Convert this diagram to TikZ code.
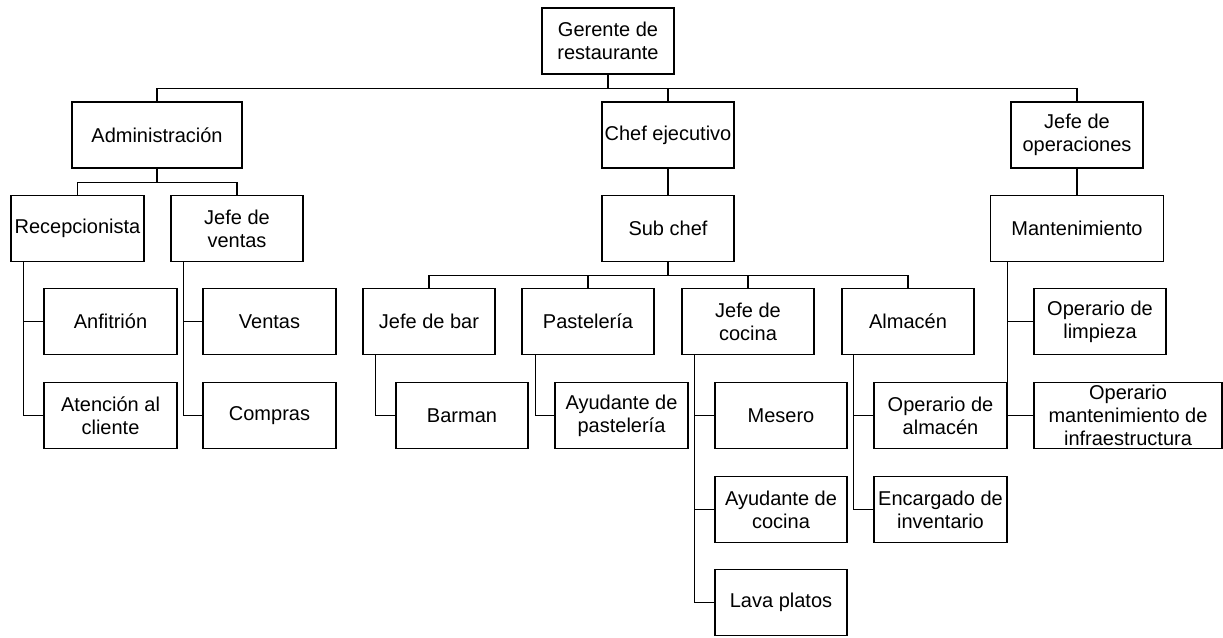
\documentclass[tikz,border=0pt]{standalone}
\usepackage{fontspec}
\setmainfont{Liberation Sans}
\tikzset{
  box/.style={draw, line width=1.5pt, minimum width=132pt, minimum height=66pt,
    inner sep=0pt, align=center, font=\fontsize{20}{23}\selectfont},
  conn/.style={line width=1.3pt},
}
\begin{document}
\begin{tikzpicture}[x=1pt,y=-1pt]
\useasboundingbox (0,0) rectangle (1223,637);
% level 0
\node[box] (ger) at (608,41) {Gerente de\\restaurante};
% level 1
\node[box, minimum width=170pt] (adm) at (157,135) {Administración};
\node[box] (chef) at (668,135) {Chef ejecutivo};
\node[box] (ops) at (1077,135) {Jefe de\\operaciones};
% level 2
\node[box, minimum width=133pt] (rec) at (77.5,228.5) {Recepcionista};
\node[box] (jven) at (237,228.5) {Jefe de\\ventas};
\node[box] (sub) at (668,228.5) {Sub chef};
\node[box, minimum width=173pt] (mant) at (1077,228.5) {Mantenimiento};
% level 3
\node[box, minimum width=133pt] (anf) at (110.5,321.5) {Anfitrión};
\node[box, minimum width=133pt] (ven) at (269.5,321.5) {Ventas};
\node[box] (bar) at (429,321.5) {Jefe de bar};
\node[box] (pas) at (588,321.5) {Pastelería};
\node[box] (jcoc) at (748,321.5) {Jefe de\\cocina};
\node[box] (alm) at (908,321.5) {Almacén};
\node[box] (lim) at (1100,321.5) {Operario de\\limpieza};
% level 4
\node[box, minimum width=133pt] (ate) at (110.5,415.5) {Atención al\\cliente};
\node[box, minimum width=133pt] (com) at (269.5,415.5) {Compras};
\node[box] (barm) at (462,415.5) {Barman};
\node[box, minimum width=133pt] (ayp) at (621.5,415.5) {Ayudante de\\pastelería};
\node[box] (mes) at (781,415.5) {Mesero};
\node[box, minimum width=133pt] (opa) at (940.5,415.5) {Operario de\\almacén};
\node[box, minimum width=188pt] (opm) at (1128,415.5) {Operario\\mantenimiento de\\infraestructura};
% level 5
\node[box] (ayc) at (781,509.5) {Ayudante de\\cocina};
\node[box, minimum width=133pt] (enc) at (940.5,509.5) {Encargado de\\inventario};
\node[box] (lav) at (781,602.5) {Lava platos};
% tree connectors
\foreach \c in {adm,chef,ops}
  \draw[conn] (ger.south) -- ++(0pt,-14pt) -| (\c.north);
\foreach \c in {rec,jven}
  \draw[conn] (adm.south) -- ++(0pt,-14pt) -| (\c.north);
\draw[conn] (chef.south) -- (sub.north);
\draw[conn] (ops.south) -- (mant.north);
\foreach \c in {bar,pas,jcoc,alm}
  \draw[conn] (sub.south) -- ++(0pt,-13.5pt) -| (\c.north);
% side connectors
\foreach \c in {anf,ate}
  \draw[conn] ([xshift=13pt]rec.south west) |- (\c.west);
\foreach \c in {ven,com}
  \draw[conn] ([xshift=13pt]jven.south west) |- (\c.west);
\draw[conn] ([xshift=13pt]bar.south west) |- (barm.west);
\draw[conn] ([xshift=14pt]pas.south west) |- (ayp.west);
\foreach \c in {mes,ayc,lav}
  \draw[conn] ([xshift=13pt]jcoc.south west) |- (\c.west);
\foreach \c in {opa,enc}
  \draw[conn] ([xshift=12pt]alm.south west) |- (\c.west);
\foreach \c in {lim,opm}
  \draw[conn] ([xshift=18pt]mant.south west) |- (\c.west);
\end{tikzpicture}
\end{document}
